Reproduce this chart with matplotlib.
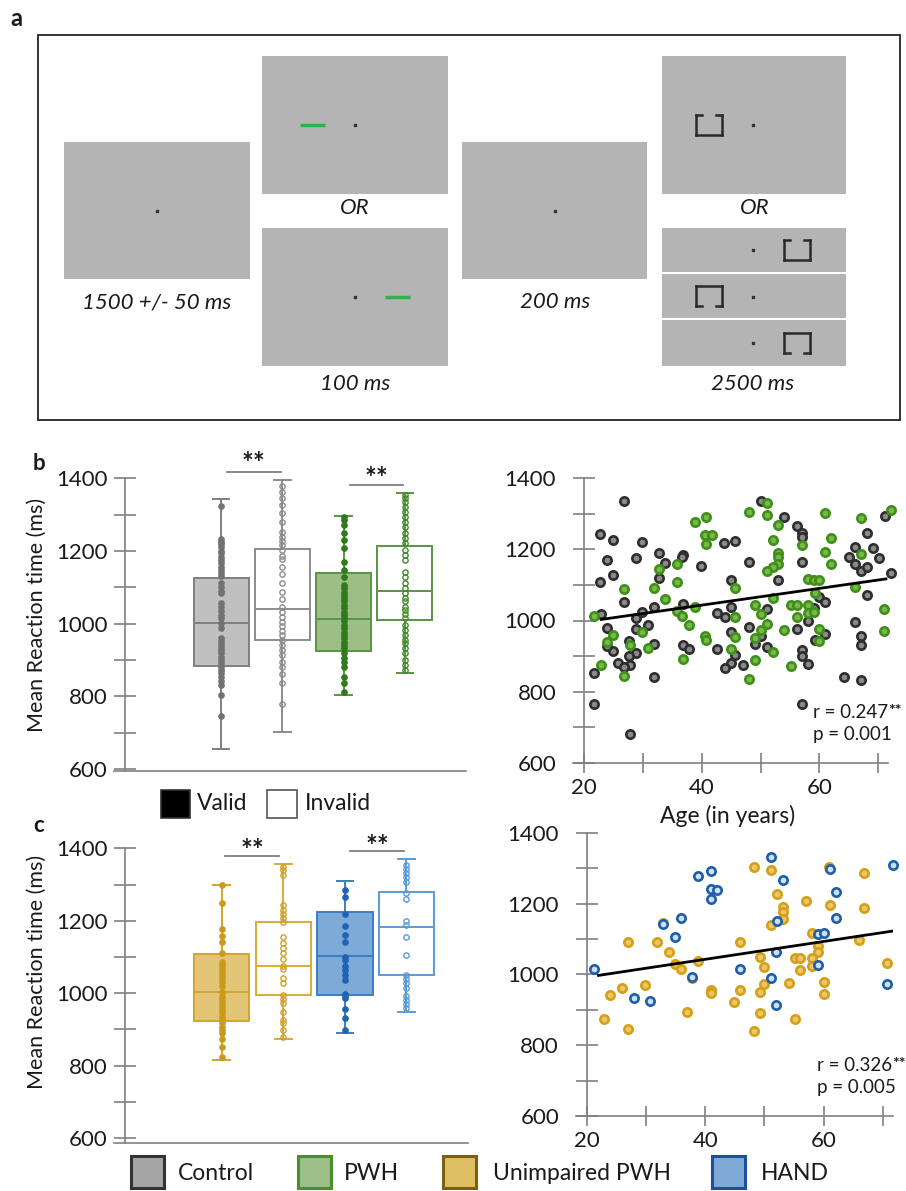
import numpy as np
import matplotlib
matplotlib.use('Agg')
import matplotlib.pyplot as plt
from matplotlib.patches import Rectangle
from matplotlib.ticker import FixedLocator
from matplotlib.transforms import ScaledTranslation

plt.rcParams['font.family'] = ['Lato', 'DejaVu Sans']

W, H = 906, 1191

# ---------------- data ----------------
# box summaries (order: valid, invalid, valid, invalid)
box_b_med = [1001, 1039, 1012, 1090]
box_b_q1 = [883, 955, 926, 1010]
box_b_q3 = [1125, 1206, 1139, 1215]
box_b_lo = [655, 701, 805, 865]
box_b_hi = [1343, 1394, 1297, 1359]

box_c_med = [1004, 1075, 1103, 1182]
box_c_q1 = [923, 995, 994, 1050]
box_c_q3 = [1108, 1196, 1224, 1278]
box_c_lo = [815, 874, 891, 948]
box_c_hi = [1298, 1357, 1309, 1370]

# individual subjects shown on the boxes
ctrl_valid = [1325, 1232, 1226, 1219, 1210, 1201, 1194, 1184, 1175, 1166, 1157, 1148, 1139, 1131,
              1111, 1102, 1091, 1085, 1058, 1047, 1036, 1024, 1015, 1001, 987, 960, 953, 944, 935,
              927, 918, 909, 900, 891, 882, 873, 863, 854, 843, 831, 804, 746]
ctrl_invalid = [1379, 1363, 1345, 1327, 1304, 1281, 1253, 1239, 1228, 1217, 1203, 1186, 1177, 1157,
                1136, 1113, 1088, 1067, 1047, 1033, 1019, 1005, 994, 981, 969, 955, 941, 927, 914,
                895, 882, 861, 836, 779]
pwh_valid = [1294, 1285, 1272, 1249, 1230, 1207, 1171, 1148, 1129, 1106, 1097, 1088, 1079, 1070,
             1061, 1051, 1042, 1033, 1024, 1015, 1006, 996, 987, 978, 969, 960, 950, 941, 932, 918,
             905, 895, 882, 854, 836, 813]
pwh_invalid = [1354, 1345, 1336, 1322, 1308, 1294, 1281, 1267, 1249, 1235, 1221, 1203, 1189, 1175,
               1143, 1129, 1111, 1097, 1084, 1070, 1061, 1047, 1038, 1027, 1015, 996, 983, 969, 955,
               946, 932, 918, 900, 886, 873]
upwh_valid = [1299, 1248, 1176, 1159, 1142, 1110, 1087, 1078, 1069, 1059, 1050, 1041, 1032, 1020,
              1004, 990, 981, 972, 963, 953, 944, 935, 926, 917, 907, 898, 891, 872, 850, 825]
upwh_invalid = [1349, 1340, 1326, 1243, 1230, 1219, 1207, 1197, 1154, 1139, 1124, 1110, 1093, 1075,
                1066, 1041, 1027, 995, 983, 972, 949, 926, 917, 898, 880]
hand_valid = [1285, 1265, 1219, 1185, 1161, 1142, 1101, 1091, 1075, 1064, 1050, 1036, 999, 992,
              986, 955, 930, 898]
hand_invalid = [1354, 1342, 1331, 1320, 1308, 1276, 1259, 1199, 1188, 1156, 1105, 1050, 1038, 1027,
                1013, 992, 981, 969, 958]

# significance bars: (x start, x end, bar y, star y)
sig_b = [(1.10, 1.97, 1416, 1452), (3.10, 3.97, 1382, 1412)]
sig_c = [(1.06, 1.93, 1379, 1405), (3.09, 3.96, 1392, 1417)]

# age vs mean RT
ctrl_age = [26.8, 22.7, 24.8, 29.8, 43.8, 45.7, 32.7, 36.8, 36.7, 23.8, 28.8, 33.7, 39.8, 24.8, 32.7,
            22.7, 44.9, 26.8, 36.8, 31.9, 44.9, 29.8, 42.6, 43.9, 28.8, 22.8, 23.8, 30.8, 28.8, 44.9,
            27.6, 31.9, 24.8, 23.8, 36.8, 37.8, 42.6, 28.8, 45.7, 27.6, 25.8, 27.8, 26.8, 44.9, 43.9,
            21.7, 31.9, 21.7, 27.8,
            50.0, 54.0, 71.1, 56.1, 57.0, 57.0, 68.0, 66.1, 69.1, 65.1, 70.1, 48.0, 57.0, 66.1, 67.1,
            68.0, 72.2, 52.9, 68.0, 60.0, 61.0, 59.0, 51.0, 58.0, 48.0, 56.1, 66.1, 61.0, 59.2, 49.0,
            50.1, 51.0, 67.0, 67.0, 57.0, 57.0, 58.0, 47.0, 64.1, 67.0, 57.0]
ctrl_rt = [1337, 1243, 1227, 1222, 1217, 1224, 1191, 1184, 1179, 1169, 1175, 1162, 1154, 1128, 1120,
           1108, 1114, 1053, 1047, 1038, 1038, 1024, 1022, 1010, 1008, 1019, 979, 987, 976, 968,
           942, 935, 915, 928, 930, 921, 920, 909, 902, 899, 881, 874, 868, 881, 865,
           852, 841, 765, 680,
           1335, 1292, 1294, 1266, 1247, 1235, 1245, 1208, 1205, 1179, 1175, 1165, 1165, 1158, 1139,
           1150, 1134, 1114, 1073, 1066, 1053, 1036, 1033, 1000, 982, 975, 996, 962, 946, 935,
           956, 926, 956, 932, 918, 899, 878, 876, 840, 832, 765]
pwh_age = [38.8, 40.7, 40.6, 41.8, 40.7, 35.8, 32.7, 35.7, 26.8, 31.8, 45.7, 33.7, 38.8, 35.7, 36.7,
           21.7, 37.8, 45.7, 29.8, 45.7, 24.8, 40.6, 40.7, 23.8, 27.8, 30.8, 44.9, 36.8, 22.8, 26.8,
           51.0, 48.0, 51.0, 61.0, 67.1, 72.2, 52.9, 52.1, 62.0, 57.0, 52.9, 52.9, 61.0, 67.1, 52.9,
           52.1, 51.0, 62.0, 58.0, 59.0, 60.0, 66.1, 59.2, 52.1, 49.0, 55.1, 56.1, 58.0, 58.0, 59.0,
           50.1, 71.0, 56.1, 51.0, 50.1, 54.0, 60.0, 71.0, 60.0, 49.1, 52.1, 49.0, 55.1, 48.0]
pwh_rt = [1278, 1290, 1241, 1240, 1214, 1160, 1144, 1108, 1089, 1092, 1092, 1061, 1038, 1028, 1014,
          1014, 987, 1009, 967, 953, 959, 956, 946, 939, 930, 923, 920, 892, 874, 843,
          1330, 1304, 1297, 1302, 1287, 1311, 1269, 1227, 1233, 1212, 1191, 1179, 1194, 1186, 1158,
          1150, 1139, 1158, 1116, 1114, 1114, 1095, 1078, 1064, 1045, 1045, 1045, 1045, 1022, 1024,
          1017, 1033, 1009, 989, 972, 973, 977, 970, 942, 951, 911, 890, 873, 836]
upwh_age = [32.8, 26.9, 31.8, 45.9, 33.9, 34.8, 35.8, 38.8, 37.8, 29.8, 25.9, 23.9, 45.9, 40.9, 40.9,
            44.8, 36.9, 22.9, 26.9,
            48.2, 51.1, 61.0, 66.9, 52.1, 57.0, 53.1, 53.1, 61.1, 66.9, 53.1, 51.1, 58.0, 59.1, 66.0,
            59.1, 49.2, 55.1, 56.0, 58.0, 50.0, 56.0, 58.0, 70.8, 50.0, 49.2, 54.1, 60.1, 60.1, 49.2,
            55.1, 48.2]
upwh_rt = [1145, 1091, 1092, 1092, 1063, 1028, 1016, 1039, 989, 970, 961, 942, 956, 956, 947,
           922, 894, 875, 845,
           1303, 1295, 1302, 1286, 1227, 1208, 1189, 1176, 1195, 1186, 1155, 1139, 1117, 1080, 1098,
           1064, 1049, 1047, 1045, 1045, 1021, 1011, 1023, 1033, 974, 950, 975, 977, 944, 892,
           873, 839]
hand_age = [38.8, 40.9, 40.9, 41.9, 40.9, 32.8, 35.8, 34.8, 21.2, 45.9, 37.8, 27.9, 30.7,
            51.1, 61.1, 71.8, 53.1, 62.1, 52.1, 62.1, 59.1, 60.1, 52.0, 59.1, 51.1, 70.8, 52.0]
hand_rt = [1279, 1291, 1241, 1237, 1214, 1141, 1159, 1106, 1016, 1014, 992, 932, 924,
           1330, 1298, 1310, 1267, 1232, 1152, 1158, 1114, 1117, 1064, 1026, 991, 974, 914]

# fitted lines as drawn (age endpoints, RT endpoints)
fit_b_age = [22.9, 71.3]
fit_b_rt = [1003, 1117]
fit_c_age = [21.9, 71.6]
fit_c_rt = [997, 1122]
r_b, p_b = '0.247', '0.001'
r_c, p_c = '0.326', '0.005'

groups = ['Control', 'PWH', 'Unimpaired PWH', 'HAND']

# ---------------- styles ----------------
AX = '#808080'
TXT = '#1a1a1a'
sty_b = [dict(face='#c0c0c0', edge='#7f7f7f', dot='#727272'),
         dict(face='white', edge='#8c8c8c', dot='#8c8c8c'),
         dict(face='#9cbf88', edge='#5a9444', dot='#2f7a1c'),
         dict(face='white', edge='#5a9444', dot='#3f8a28')]
sty_c = [dict(face='#e2c577', edge='#d4a52c', dot='#c99a1c'),
         dict(face='white', edge='#d9aa35', dot='#d0a12a'),
         dict(face='#7eaad8', edge='#3a7ec8', dot='#1f64b4'),
         dict(face='white', edge='#5b9bd5', dot='#5b9bd5')]
legend_face = ['#a6a6a6', '#9dc08a', '#dcbf63', '#80aad6']
legend_edge = ['#333333', '#4b8e2c', '#7d5e12', '#1f4e9c']

fig = plt.figure(figsize=(W / 100, H / 100), dpi=100)


def px_axes(x0, y0, x1, y1):
    return fig.add_axes([x0 / W, 1 - y1 / H, (x1 - x0) / W, (y1 - y0) / H])


# overlay in pixel coords for the schematic, labels and legends
ov = fig.add_axes([0, 0, 1, 1])
ov.set_xlim(0, W)
ov.set_ylim(H, 0)
ov.axis('off')

# ---- panel a schematic ----
GRAY = '#b4b4b4'
ov.add_patch(Rectangle((38, 35), 862, 385, fill=False, ec='#222222', lw=1.3))
screens = [(64, 142, 250, 279), (262, 56, 448, 194), (262, 228, 448, 366),
           (462, 142, 647, 279), (662, 56, 846, 194),
           (662, 228, 846, 272), (662, 274, 846, 318), (662, 320, 846, 366)]
for x0, y0, x1, y1 in screens:
    ov.add_patch(Rectangle((x0, y0), x1 - x0, y1 - y0, fc=GRAY, ec='none'))
for cx, cy in [(157, 211), (355, 125), (355, 297), (555, 211), (753, 125),
               (753, 250), (753, 297), (753, 343)]:
    ov.plot(cx, cy, 's', ms=1.6, color='#333333')
ov.plot([300, 325], [125, 125], color='#2db34a', lw=2.5, solid_capstyle='butt')
ov.plot([385, 410], [297, 297], color='#2db34a', lw=2.5, solid_capstyle='butt')


def bracket(cx, cy, gap_top):
    w, h, s = 26, 20, 6
    x0, x1, y0, y1 = cx - w / 2, cx + w / 2, cy - h / 2, cy + h / 2
    kw = dict(color='#2a2a2a', lw=1.8, solid_capstyle='projecting')
    ov.plot([x0, x0], [y0, y1], **kw)
    ov.plot([x1, x1], [y0, y1], **kw)
    open_y, full_y = (y0, y1) if gap_top else (y1, y0)
    ov.plot([x0, x1], [full_y, full_y], **kw)
    ov.plot([x0, x0 + s], [open_y, open_y], **kw)
    ov.plot([x1 - s, x1], [open_y, open_y], **kw)


bracket(709, 125, True)
bracket(797, 250, True)
bracket(709, 296, False)
bracket(797, 343, False)

it = dict(fontsize=16, style='italic', ha='center', va='center', color=TXT)
ov.text(157, 302, '1500 +/- 50 ms', **it)
ov.text(355, 208, 'OR', **it)
ov.text(355, 384, '100 ms', **it)
ov.text(555, 302, '200 ms', **it)
ov.text(755, 208, 'OR', **it)
ov.text(753, 384, '2500 ms', **it)

ov.text(10, 18, 'a', fontsize=17, fontweight='bold', va='center', color=TXT)
ov.text(33, 463, 'b', fontsize=16, fontweight='bold', va='center', color=TXT)
ov.text(33, 825, 'c', fontsize=16, fontweight='bold', va='center', color=TXT)

ylab = dict(fontsize=15.5, rotation=90, ha='center', va='center', color=TXT)
ov.text(37, 615, 'Mean Reaction time (ms)', **ylab)
ov.text(37, 972, 'Mean Reaction time (ms)', **ylab)
ov.text(728, 816, 'Age (in years)', fontsize=16.5, ha='center', va='center', color=TXT)

# Valid / Invalid key
ov.add_patch(Rectangle((161, 790), 29, 28, fc='black', ec='#333333', lw=1.2))
ov.text(197, 804, 'Valid', fontsize=16.5, va='center', color=TXT)
ov.add_patch(Rectangle((267, 790), 30, 28, fc='white', ec='#555555', lw=1.2))
ov.text(305, 804, 'Invalid', fontsize=16.5, va='center', color=TXT)

# group key
for name, fc, ec, x0, tx in zip(groups, legend_face, legend_edge,
                                [131, 298, 443, 712], [178, 344, 493, 761]):
    ov.add_patch(Rectangle((x0, 1156), 33, 32, fc=fc, ec=ec, lw=2.2))
    ov.text(tx, 1173, name, fontsize=16.5, va='center', color=TXT)

# stars are placed by their visual centre
star_shift = ScaledTranslation(0, -0.13, fig.dpi_scale_trans)


# ---- box panels ----
def box_panel(ax, med, q1, q3, lo, hi, sty, strips, sig, ylo):
    stats = [dict(med=m, q1=a, q3=b, whislo=l, whishi=h, fliers=[])
             for m, a, b, l, h in zip(med, q1, q3, lo, hi)]
    pos = [1, 2, 3, 4]
    art = ax.bxp(stats, positions=pos, widths=0.9, patch_artist=True, showfliers=False,
                 capwidths=0.27)
    for i, s in enumerate(sty):
        art['boxes'][i].set(facecolor=s['face'], edgecolor=s['edge'], linewidth=1.4)
        art['medians'][i].set(color=s['edge'], linewidth=1.4)
        for ln in art['whiskers'][2 * i:2 * i + 2] + art['caps'][2 * i:2 * i + 2]:
            ln.set(color=s['edge'], linewidth=1.4)
    for i, (vals, s) in enumerate(zip(strips, sty)):
        filled = (i % 2 == 0)
        ax.plot(np.full(len(vals), pos[i]), vals, 'o', ms=3.8,
                mfc=s['dot'] if filled else 'none', mec=s['dot'], mew=1.0, zorder=4)
    for x1, x2, yb, ys in sig:
        ax.plot([x1, x2], [yb, yb], color=AX, lw=1.3, clip_on=False)
        ax.text((x1 + x2) / 2, ys, '**', ha='center', va='baseline', fontsize=20,
                fontweight='bold', color=TXT, clip_on=False,
                transform=ax.transData + star_shift)
    ax.set_xlim(-0.75, 5.0)
    ax.set_ylim(ylo, 1400)
    ax.spines[['top', 'right']].set_visible(False)
    ax.spines['left'].set_position(('data', -0.57))
    for sp in ['left', 'bottom']:
        ax.spines[sp].set_color(AX)
        ax.spines[sp].set_linewidth(1.2)
    ax.set_facecolor('none')
    ax.yaxis.set_major_locator(FixedLocator([600, 800, 1000, 1200, 1400]))
    ax.yaxis.set_minor_locator(FixedLocator([700, 900, 1100, 1300]))
    ax.tick_params(axis='y', which='both', direction='inout', length=15.5, width=1.2,
                   color=AX, labelsize=16, pad=5, labelcolor=TXT)
    ax.tick_params(axis='x', bottom=False, labelbottom=False)


axb = px_axes(114, 478.3, 466, 770.7)
box_panel(axb, box_b_med, box_b_q1, box_b_q3, box_b_lo, box_b_hi, sty_b,
          [ctrl_valid, ctrl_invalid, pwh_valid, pwh_invalid], sig_b, 595.4)
axc = px_axes(114, 848.3, 468, 1142.7)
box_panel(axc, box_c_med, box_c_q1, box_c_q3, box_c_lo, box_c_hi, sty_c,
          [upwh_valid, upwh_invalid, hand_valid, hand_invalid], sig_c, 587)


# ---- scatter panels ----
def scatter_panel(ax, sets, fit_x, fit_y, r_txt, p_txt):
    for age, rt, fc, ec in sets:
        ax.scatter(age, rt, s=36, facecolor=fc, edgecolor=ec, linewidths=1.9,
                   clip_on=False, zorder=3)
    ax.plot(fit_x, fit_y, color='black', lw=2.0, zorder=4)
    t = ax.text(58.9, 742, 'r = ' + r_txt, fontsize=13.5, va='center', color=TXT,
                clip_on=False)
    ax.annotate('**', xy=(1.0, 1.0), xycoords=t, ha='left', va='top', fontsize=11.5,
                fontweight='bold', color=TXT, annotation_clip=False)
    ax.text(58.9, 680, 'p = ' + p_txt, fontsize=13.5, va='center', color=TXT, clip_on=False)
    ax.set_xlim(18.1, 71.7)
    ax.set_ylim(600, 1400)
    ax.spines[['top', 'right']].set_visible(False)
    ax.spines['left'].set_position(('data', 20))
    for sp in ['left', 'bottom']:
        ax.spines[sp].set_color(AX)
        ax.spines[sp].set_linewidth(1.2)
    ax.set_facecolor('none')
    ax.yaxis.set_major_locator(FixedLocator([600, 800, 1000, 1200, 1400]))
    ax.yaxis.set_minor_locator(FixedLocator([700, 900, 1100, 1300]))
    ax.xaxis.set_major_locator(FixedLocator([20, 40, 60]))
    ax.xaxis.set_minor_locator(FixedLocator([30, 50, 70]))
    ax.tick_params(axis='y', which='both', direction='inout', length=16.5, width=1.2,
                   color=AX, labelsize=16, pad=12, labelcolor=TXT)
    ax.tick_params(axis='x', which='both', direction='inout', length=14, width=1.2,
                   color=AX, labelsize=16, pad=4, labelcolor=TXT)


axs1 = px_axes(573.1, 478.3, 888.3, 762.7)
scatter_panel(axs1, [(ctrl_age, ctrl_rt, '#8a8a8a', '#2e2e2e'),
                     (pwh_age, pwh_rt, '#78b84a', '#3f8f1a')],
              fit_b_age, fit_b_rt, r_b, p_b)
axs2 = px_axes(576.0, 832.7, 892.7, 1116.0)
scatter_panel(axs2, [(upwh_age, upwh_rt, '#ecc768', '#d4a017'),
                     (hand_age, hand_rt, '#cfe0f2', '#1f5ea8')],
              fit_c_age, fit_c_rt, r_c, p_c)

fig.savefig('out.png', dpi=100)
